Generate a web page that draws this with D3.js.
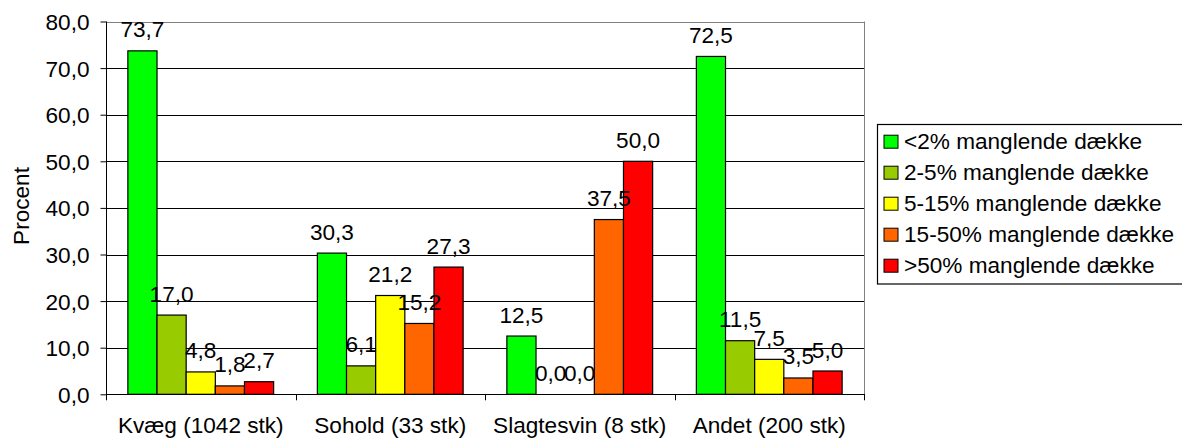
<!DOCTYPE html>
<html>
<head>
<meta charset="utf-8">
<script src="https://cdn.jsdelivr.net/npm/d3@7"></script>
<style>
  html, body { margin: 0; padding: 0; background: #fff; }
  svg { display: block; font-family: "Liberation Sans", Arial, sans-serif; }
</style>
</head>
<body>
<svg id="chart" width="1182" height="439"></svg>
<script>
const categories = ["Kvæg (1042 stk)", "Sohold (33 stk)", "Slagtesvin (8 stk)", "Andet (200 stk)"];
const seriesNames = ["<2% manglende dække", "2-5% manglende dække", "5-15% manglende dække", "15-50% manglende dække", ">50% manglende dække"];
const seriesColors = ["#00FF00", "#99CC00", "#FFFF00", "#FF6600", "#FF0000"];
const s1 = [73.7, 30.3, 12.5, 72.5];
const s2 = [17.0, 6.1, 0.0, 11.5];
const s3 = [4.8, 21.2, 0.0, 7.5];
const s4 = [1.8, 15.2, 37.5, 3.5];
const s5 = [2.7, 27.3, 50.0, 5.0];
const yTicks = [0, 10, 20, 30, 40, 50, 60, 70, 80];
const yTitle = "Procent";

const seriesValues = [s1, s2, s3, s4, s5];

(function () {
const svg = d3.select("#chart");
const pL = 106, pR = 864, pT = 21.5, pB = 394.3;
const fs = 22.6;

const x = d3.scaleBand().domain(categories).range([pL, pR]).padding(0);
const xs = d3.scaleBand().domain(d3.range(seriesNames.length)).range([0, x.bandwidth()]).paddingInner(0).paddingOuter(0.75);
const y = d3.scaleLinear().domain([0, 80]).range([pB, pT]);
const fmt = v => d3.format(".1f")(v).replace(".", ",");

// gridlines
svg.append("g").selectAll("line").data(yTicks.filter(t => t > 0 && t < 80)).join("line")
  .attr("x1", pL).attr("x2", pR)
  .attr("y1", d => Math.round(y(d)) + 0.5).attr("y2", d => Math.round(y(d)) + 0.5)
  .attr("stroke", "#000").attr("stroke-width", 1);

// plot border top/right
svg.append("line").attr("x1", pL).attr("x2", pR + 0.5).attr("y1", Math.round(pT) + 0.5).attr("y2", Math.round(pT) + 0.5).attr("stroke", "#808080");
svg.append("line").attr("x1", pR + 0.5).attr("x2", pR + 0.5).attr("y1", pT).attr("y2", pB).attr("stroke", "#808080");

// bars
const groups = svg.append("g").selectAll("g").data(categories).join("g")
  .attr("transform", d => `translate(${x(d)},0)`);
groups.selectAll("rect").data((c, ci) => seriesValues.map((s, si) => ({si, v: s[ci]}))).join("rect")
  .attr("x", d => xs(d.si)).attr("width", xs.bandwidth())
  .attr("y", d => y(d.v)).attr("height", d => pB - y(d.v))
  .attr("fill", d => seriesColors[d.si]).attr("stroke", "#000").attr("stroke-width", 1.2);
groups.selectAll("text").data((c, ci) => seriesValues.map((s, si) => ({si, v: s[ci]}))).join("text")
  .attr("x", d => xs(d.si) + xs.bandwidth() / 2).attr("y", d => y(d.v) - 13.5)
  .attr("text-anchor", "middle").attr("font-size", fs).attr("fill", "#000")
  .text(d => fmt(d.v));

// y axis
const yAxis = svg.append("g").attr("transform", `translate(${pL + 0.5},0)`)
  .call(d3.axisLeft(y).tickValues(yTicks).tickSize(6).tickPadding(11).tickFormat(fmt));
yAxis.select(".domain").attr("stroke", "#000").attr("d", `M0,${pT}V${pB}`);
yAxis.selectAll(".tick line").attr("stroke", "#000");
yAxis.selectAll(".tick text").attr("font-size", fs).attr("font-family", "Liberation Sans, Arial, sans-serif").attr("fill", "#000").attr("dy", "0.35em");

// x axis
const xAxis = svg.append("g").attr("transform", `translate(0,${Math.round(pB) + 0.5})`)
  .call(d3.axisBottom(x).tickSize(0).tickPadding(0));
xAxis.select(".domain").attr("stroke", "#000").attr("d", `M${pL},0H${pR + 1}`);
xAxis.selectAll(".tick text").attr("font-size", fs).attr("font-family", "Liberation Sans, Arial, sans-serif").attr("fill", "#000").attr("dy", null).attr("y", 38.5);
svg.append("g").selectAll("line").data(categories.map(c => x(c)).concat([pR])).join("line")
  .attr("x1", d => Math.round(d) + 0.5).attr("x2", d => Math.round(d) + 0.5)
  .attr("y1", pB).attr("y2", pB + 6).attr("stroke", "#000");

// y title
svg.append("text").attr("transform", "translate(29,206) rotate(-90)")
  .attr("text-anchor", "middle").attr("font-size", fs).attr("fill", "#000").text(yTitle);

// legend
const lg = svg.append("g");
lg.append("rect").attr("x", 877.5).attr("y", 124.5).attr("width", 320).attr("height", 159.5)
  .attr("fill", "#fff").attr("stroke", "#000").attr("stroke-width", 1.2);
const li = lg.selectAll("g").data(seriesNames).join("g")
  .attr("transform", (d, i) => `translate(0,${141.7 + i * 31})`);
li.append("rect").attr("x", 884).attr("y", -6.5).attr("width", 14).attr("height", 13)
  .attr("fill", (d, i) => seriesColors[i]).attr("stroke", "#000").attr("stroke-width", 1);
li.append("text").attr("x", 904).attr("y", 7.5).attr("font-size", fs).attr("fill", "#000").text(d => d);
})();
</script>
</body>
</html>
